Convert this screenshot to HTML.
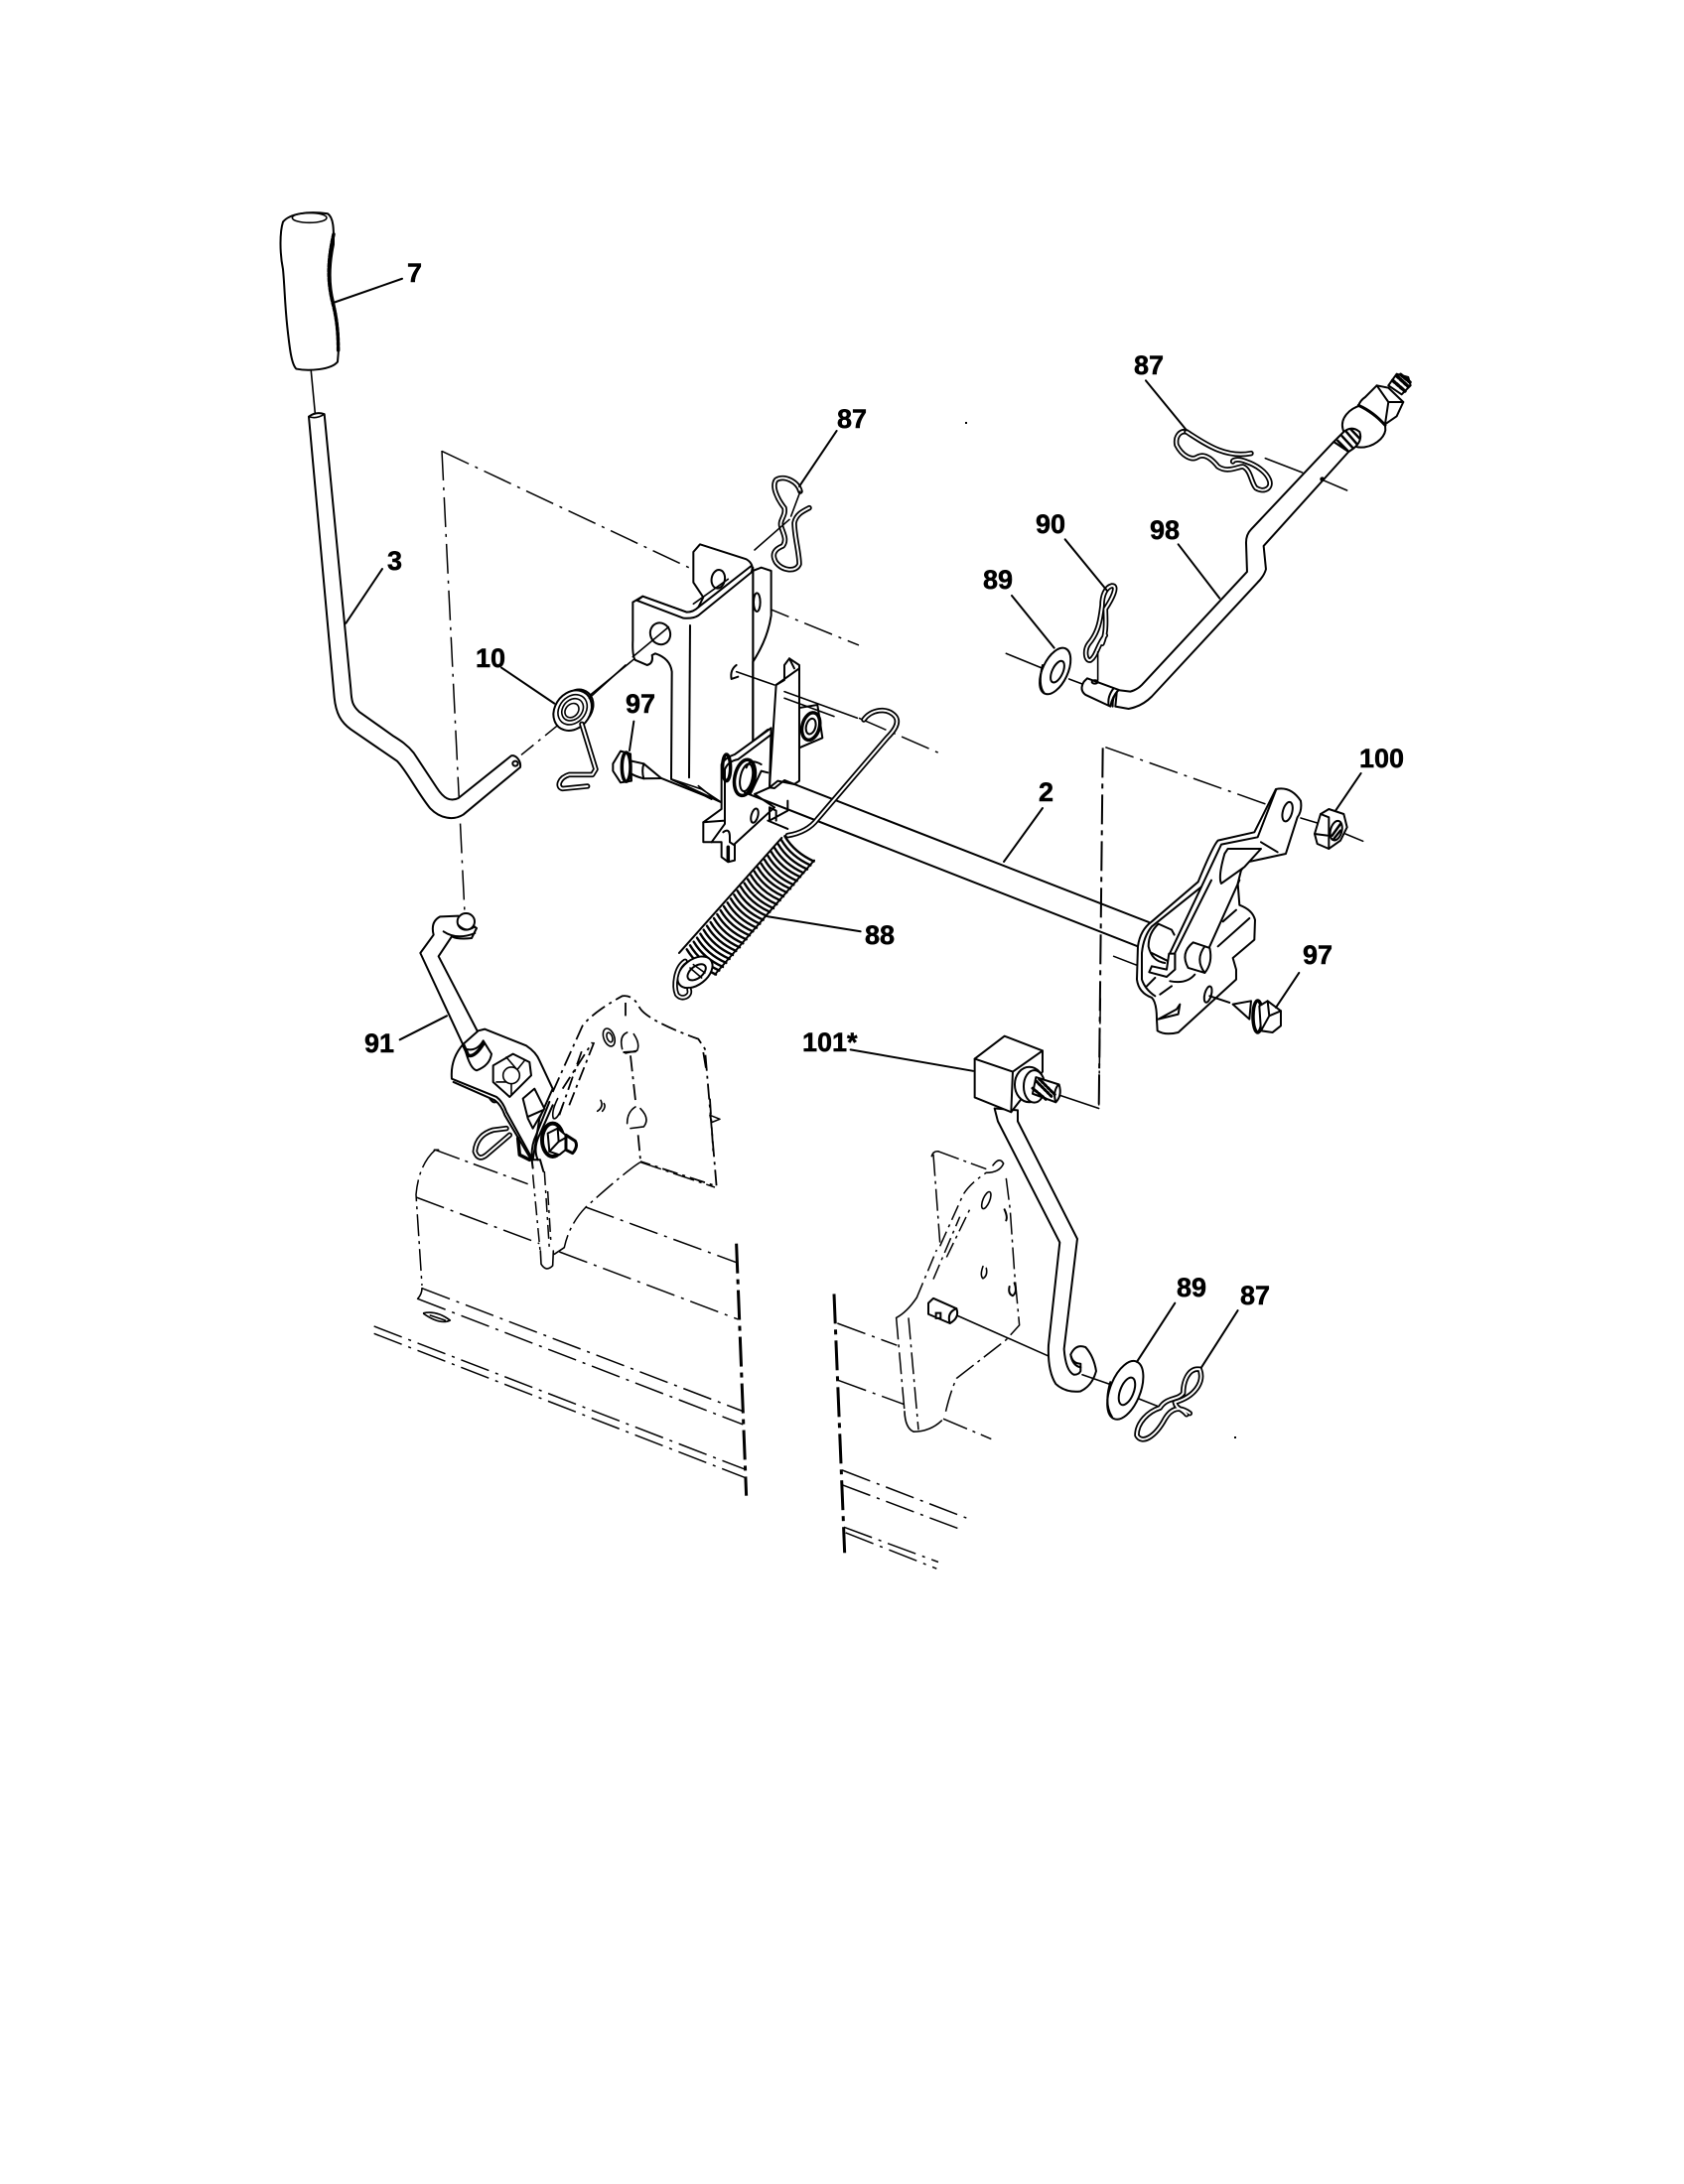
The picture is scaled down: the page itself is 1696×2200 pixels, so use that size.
<!DOCTYPE html>
<html><head><meta charset="utf-8">
<style>
html,body{margin:0;padding:0;background:#fff}
svg{display:block}
path,line,ellipse,polygon,circle{vector-effect:non-scaling-stroke;fill:none;stroke:#000;stroke-width:2;stroke-linejoin:round;stroke-linecap:round}
.f{fill:#fff}
.t{stroke-width:1.6}
.k{stroke-width:3.5}
.d{stroke-width:1.5;stroke-dasharray:30 7 3 7;stroke-linecap:butt}
.D{stroke-width:3;stroke-dasharray:30 6 5 6;stroke-linecap:butt}
.w1{stroke-width:5.5}
.w2{stroke:#fff;stroke-width:2}
.c{stroke-width:2.4}
text{font-family:"Liberation Sans",sans-serif;font-weight:bold;font-size:27px;fill:#000;stroke:#000;stroke-width:.5}
</style></head><body>
<svg xmlns="http://www.w3.org/2000/svg" width="1696" height="2200" viewBox="0 0 1696 2200">
<defs>
<path id="coil" class="c" d="M-44,-38 Q-14,12 44,38"/>
</defs>
<rect width="1696" height="2200" fill="#fff"/>

<!-- page level dash lines -->
<path class="d" d="M445,454 L468,920"/>
<rect x="972" y="425" width="2" height="2" fill="#000"/>
<rect x="1243" y="1447" width="2" height="2" fill="#000"/>

<!-- ZOOM 1: grip, rod, spring -->
<g transform="translate(230,180) scale(.3333,.4146)">
<path class="d" d="M645,662 L1400,948"/>
<path class="f" d="M165,105 C185,85 240,78 300,85 C320,95 318,130 318,160 C305,210 305,260 318,300 C335,360 335,410 330,445 C310,465 240,468 205,462 C190,450 185,410 178,360 C170,300 170,260 165,220 C155,180 155,130 165,105Z"/>
<ellipse class="t" cx="245" cy="95" rx="52" ry="12"/>
<path class="k" style="stroke-dasharray:3 2" d="M318,135 C300,200 298,250 318,310 C330,350 332,385 332,420"/>
<path d="M322,300 L525,243"/>
<path class="t" d="M250,468 L262,570"/>
<path class="f" d="M243,578 L320,1260 C325,1300 340,1320 370,1338 L510,1415 C540,1440 570,1490 610,1530 C640,1555 680,1560 710,1545 L882,1430 C885,1415 870,1400 855,1402 L695,1505 C670,1515 650,1505 630,1480 L560,1395 C540,1375 520,1365 500,1355 L395,1295 C375,1280 372,1270 370,1240 L290,572 Q265,565 243,578Z"/>
<path class="t" d="M243,578 Q265,585 290,572"/>
<ellipse cx="867" cy="1421" rx="8" ry="6"/>
<path d="M355,1080 L465,948"/>
<path class="d" style="stroke-dasharray:16 6 3 6" d="M885,1400 L1000,1325"/>
<path class="t" d="M1085,1260 L1290,1125"/>
<path d="M825,1188 L985,1275"/>
<!-- spring 10 -->
<ellipse class="f" cx="1052" cy="1285" rx="52" ry="42" transform="rotate(-25 1052 1285)"/>
<ellipse class="t" cx="1060" cy="1282" rx="44" ry="38" transform="rotate(-25 1060 1282)"/>
<ellipse class="f" cx="1040" cy="1292" rx="60" ry="46" transform="rotate(-25 1040 1292)"/>
<ellipse class="t" cx="1040" cy="1290" rx="46" ry="34" transform="rotate(-25 1040 1290)"/>
<ellipse class="t" cx="1040" cy="1290" rx="34" ry="25" transform="rotate(-25 1040 1290)"/>
<ellipse class="t" cx="1038" cy="1292" rx="22" ry="16" transform="rotate(-25 1038 1292)"/>
<path class="w1" d="M1068,1325 L1110,1435 L1100,1448 L1030,1448 C1000,1455 990,1478 1010,1482 L1085,1476"/>
<path class="w2" d="M1068,1325 L1110,1435 L1100,1448 L1030,1448 C1000,1455 990,1478 1010,1482 L1085,1476"/>
</g>

<!-- ZOOM 2: main bracket, spring 88 -->
<g transform="translate(560,480) scale(.3333)">
<path class="d" d="M620,390 L915,510"/>
<path class="f" d="M595,285 L620,275 L650,285 L650,420 Q640,490 595,560 Z"/>
<ellipse cx="607" cy="380" rx="10" ry="28"/>
<path class="f" d="M232,380 L262,362 L395,410 Q415,410 430,395 L595,275 L595,800 L640,765 L645,940 L600,960 L500,985 L348,915 L350,590 Q345,550 300,535 L290,540 Q295,565 275,570 L240,555 Q230,545 232,495 Z"/>
<path class="f" d="M415,228 L435,205 L575,250 Q600,265 590,290 L430,420 Q415,430 385,428 L245,375 L262,362 L395,410 Q415,410 430,395 L445,365 L415,320 Z"/>
<path d="M430,395 L590,270"/>
<ellipse class="f" cx="490" cy="310" rx="20" ry="28" transform="rotate(10 490 310)"/>
<path class="t" d="M415,385 L520,310"/>
<ellipse class="f" cx="315" cy="475" rx="30" ry="33" transform="rotate(-20 315 475)"/>
<path class="t" d="M232,545 L340,455"/>
<path class="t" d="M100,670 L210,570"/>
<path d="M405,450 L402,910"/>
<path d="M595,560 L595,800"/>
<path d="M318,912 L450,965 L470,975"/>
<path d="M350,915 L440,945 L500,985 M430,935 L480,975" class="t"/>
<path d="M545,570 Q525,585 530,612 L550,605" />
<path class="t" d="M545,590 L660,630"/>
<!-- sub bracket + nut -->
<polygon class="f" points="730,700 790,690 805,790 735,820"/>
<ellipse class="k" cx="770" cy="755" rx="26" ry="42" transform="rotate(15 770 755)"/>
<ellipse cx="770" cy="755" rx="14" ry="24" transform="rotate(15 770 755)"/>
<path class="f" d="M645,940 L665,630 L690,615 L690,570 L705,550 L735,570 L735,920 L720,930 L670,920 Z"/>
<path d="M665,630 L735,580 M705,550 L720,580"/>
<path d="M645,940 L660,942 L690,918 L720,930"/>
<path class="t" d="M690,650 L910,730 M690,670 L840,725" />
<path class="d" d="M915,730 L1167,840"/>
<!-- plate -->
<path class="f" d="M500,985 L500,870 Q510,850 540,840 L650,760 L645,940 L600,960 L660,1000 L540,1110 L540,1160 L520,1165 L500,1150 L500,1105 L470,1105 L445,1105 L445,1045 L500,1005 Z"/>
<path d="M510,990 L510,885 Q520,860 550,855 L650,780"/>
<path d="M510,990 L510,1050 L470,1105 M445,1045 L510,1040"/>
<path d="M505,1075 Q525,1060 525,1090 L525,1105 L540,1115"/>
<path class="k" d="M520,1120 L520,1160"/>
<ellipse class="k" cx="515" cy="880" rx="12" ry="40"/>
<ellipse class="f k" cx="570" cy="910" rx="30" ry="55" transform="rotate(12 570 910)"/>
<ellipse cx="575" cy="910" rx="18" ry="42" transform="rotate(12 575 910)"/>
<ellipse cx="600" cy="1025" rx="10" ry="22" transform="rotate(15 600 1025)"/>
<path d="M645,1000 L645,1040 L700,1010 L700,980 M645,1000 L665,1010 L665,1040 M640,1040 L700,1065"/>
<path d="M575,880 Q585,850 620,870"/>
<path d="M587,960 L620,890 L640,895"/>
<path d="M570,955 L1755,1419"/>
<path d="M720,930 L1791,1347"/>
<!-- spring 88 -->
<path class="f" style="stroke:none" d="M680,1095 L780,1165 L475,1530 L365,1455 Z"/>
<use href="#coil" x="735" y="1125"/><use href="#coil" x="725" y="1137"/><use href="#coil" x="715" y="1149"/><use href="#coil" x="704" y="1160"/><use href="#coil" x="694" y="1172"/><use href="#coil" x="684" y="1184"/><use href="#coil" x="674" y="1196"/><use href="#coil" x="664" y="1208"/><use href="#coil" x="653" y="1219"/><use href="#coil" x="643" y="1231"/><use href="#coil" x="633" y="1243"/><use href="#coil" x="623" y="1255"/><use href="#coil" x="613" y="1267"/><use href="#coil" x="602" y="1278"/><use href="#coil" x="592" y="1290"/><use href="#coil" x="582" y="1302"/><use href="#coil" x="572" y="1314"/><use href="#coil" x="562" y="1326"/><use href="#coil" x="551" y="1337"/><use href="#coil" x="541" y="1349"/><use href="#coil" x="531" y="1361"/><use href="#coil" x="521" y="1373"/><use href="#coil" x="511" y="1385"/><use href="#coil" x="500" y="1396"/><use href="#coil" x="490" y="1408"/><use href="#coil" x="480" y="1420"/><use href="#coil" x="470" y="1432"/><use href="#coil" x="460" y="1444"/><use href="#coil" x="449" y="1455"/><use href="#coil" x="439" y="1467"/>
<path d="M682,1092 L372,1440 M780,1160 L480,1505"/>
<path class="w1" d="M930,735 C950,705 1000,695 1025,725 C1040,745 1020,770 1000,790 L790,1035 Q760,1075 700,1085"/>
<path class="w2" d="M930,735 C950,705 1000,695 1025,725 C1040,745 1020,770 1000,790 L790,1035 Q760,1075 700,1085"/>
<path d="M640,1330 L920,1375"/>
<!-- bolt 97 -->
<path class="f" d="M220,858 L265,868 L318,912 L265,913 Q235,905 222,895 Z"/>
<path d="M265,868 Q258,890 265,913"/>
<polygon class="f" points="172,868 195,830 225,838 228,920 195,925 172,890"/>
<ellipse class="f k" cx="212" cy="878" rx="13" ry="44"/>
<path d="M235,740 L222,828"/>
</g>

<!-- ZOOM 8: clip 87 -->
<g transform="translate(720,380) scale(.3333)">
<path class="w1" d="M258,345 C250,315 210,295 185,310 C170,330 190,370 210,395 C215,420 195,430 200,450 C205,470 220,490 205,510 C180,520 170,535 185,560 C205,585 245,590 255,565 C255,530 240,480 240,440 C245,415 265,405 285,395"/>
<path class="w2" d="M258,345 C250,315 210,295 185,310 C170,330 190,370 210,395 C215,420 195,430 200,450 C205,470 220,490 205,510 C180,520 170,535 185,560 C205,585 245,590 255,565 C255,530 240,480 240,440 C245,415 265,405 285,395"/>
<path d="M258,345 L230,420" class="t"/>
<path d="M255,330 L368,162"/>
<path class="t" d="M120,522 L225,430"/>
</g>

<!-- ZOOM 3: rod 98 -->
<g transform="translate(950,320) scale(.3333)">
<path class="w1" d="M735,345 C715,340 700,360 705,385 C720,415 750,435 770,420 C790,410 810,425 830,450 C860,470 890,450 905,450 C930,460 930,500 945,515 C970,530 995,515 985,490 C975,465 945,445 915,435 C890,425 875,430 875,435"/>
<path class="w2" d="M735,345 C715,340 700,360 705,385 C720,415 750,435 770,420 C790,410 810,425 830,450 C860,470 890,450 905,450 C930,460 930,500 945,515 C970,530 995,515 985,490 C975,465 945,445 915,435 C890,425 875,430 875,435"/>
<path class="w1" d="M735,345 C790,380 850,425 930,410"/>
<path class="w2" d="M735,345 C790,380 850,425 930,410"/>
<path d="M612,190 L735,340"/>
<path class="t" d="M973,425 L1085,468 M1145,490 L1220,522"/>
<path class="f" d="M525,1125 L565,1130 Q585,1125 600,1110 L918,768 L915,680 Q915,655 930,640 L1180,375 L1225,405 L968,690 L975,760 Q970,780 950,800 L630,1145 Q600,1175 560,1182 L520,1175 Z"/>
<path class="f" d="M435,1090 L530,1125 Q510,1145 505,1175 L430,1140 Q410,1125 425,1100 Z"/>
<path d="M515,1120 Q495,1145 500,1172 M530,1125 Q510,1145 512,1175"/>
<ellipse cx="458" cy="1101" rx="9" ry="5"/>
<circle cx="1145" cy="488" r="4" style="fill:#000"/>
<!-- ball -->
<path class="f" d="M1262,265 C1225,275 1200,305 1207,335 C1215,370 1235,392 1262,392 C1300,392 1332,365 1336,340 L1335,320 Z"/>
<path class="f" d="M1180,375 L1210,345 Q1235,325 1258,345 Q1268,372 1240,395 L1225,405 Z"/>
<path class="k" style="stroke-width:2.5" d="M1192,372 L1222,402 M1205,358 L1238,394 M1218,345 L1250,382 M1232,338 L1258,365"/>
<!-- hex -->
<path class="f" d="M1255,265 Q1260,250 1275,240 L1310,205 L1345,212 L1390,255 L1370,298 L1335,322 Q1300,290 1255,265 Z"/>
<path d="M1310,205 L1345,255 L1335,322 M1345,255 L1390,255"/>
<path class="k" style="stroke-width:3" d="M1255,265 Q1300,285 1335,325"/>
<path class="f" d="M1345,205 L1370,170 L1405,180 L1412,205 L1385,232 Z"/>
<path class="k" style="stroke-dasharray:3 2" d="M1358,190 L1395,222 M1370,176 L1405,208 M1382,172 L1410,195"/>
<!-- clip 90 -->
<path class="w1" d="M480,985 C495,950 490,905 490,880 C510,850 530,810 510,810 C490,815 480,840 480,870 C475,910 470,950 440,985 C425,1005 430,1040 445,1035 C465,1020 465,990 490,960"/>
<path class="w2" d="M480,985 C495,950 490,905 490,880 C510,850 530,810 510,810 C490,815 480,840 480,870 C475,910 470,950 440,985 C425,1005 430,1040 445,1035 C465,1020 465,990 490,960"/>
<path d="M368,670 L495,825"/>
<path class="t" d="M467,1010 L467,1095"/>
<path d="M710,685 L835,848"/>
<!-- washer -->
<ellipse class="f" cx="338" cy="1068" rx="38" ry="75" transform="rotate(25 338 1068)"/>
<path d="M300,1050 Q285,1110 305,1135"/>
<ellipse cx="345" cy="1070" rx="16" ry="35" transform="rotate(25 345 1070)"/>
<path d="M207,840 L335,998"/>
<path class="t" d="M190,1015 L300,1060 M380,1092 L420,1107"/>
</g>

<!-- ZOOM 4: right lever plate -->
<g transform="translate(1000,720) scale(.3333)">
<path class="d" d="M340,98 L830,272"/>
<path class="D" style="stroke-width:2" d="M332,100 L320,1190"/>
<path class="t" d="M365,730 L435,757"/>
<path class="f" d="M855,225 L835,265 L790,355 L680,380 Q665,395 620,505 L480,625 Q445,650 438,700 L435,800 Q440,840 480,855 Q495,870 495,920 L497,955 Q520,970 560,960 L735,800 L735,770 L725,735 L790,680 L792,620 Q785,590 745,575 L740,510 L750,470 L770,445 L885,420 L920,310 Q935,290 930,260 Q900,215 855,225 Z"/>
<path d="M855,228 L800,370 L690,392 L630,520 L480,640 Q455,670 450,720 L450,800 Q460,830 490,850"/>
<path class="f" d="M700,420 L710,405 L810,405 L760,460 L690,510 Q680,490 700,420Z"/>
<path d="M535,720 L630,520 M550,770 L550,720 L660,500"/>
<path d="M655,700 L745,500"/>
<ellipse cx="890" cy="293" rx="14" ry="30" transform="rotate(15 890 293)"/>
<path d="M810,385 L860,415 M680,700 L775,615 M695,625 L735,590 M465,820 L490,795 M505,845 L540,820"/>
<path d="M500,632 Q470,660 470,700 Q480,745 520,750 M500,632 L540,650 L548,665"/>
<path d="M480,720 L530,745"/>
<path class="f" d="M480,760 L525,770 L532,722 L550,722 L550,770 L525,792 L472,778 Z"/>
<path class="f" d="M605,688 L655,705 Q665,750 640,780 L590,765 Q565,720 605,688Z"/>
<path d="M640,700 Q610,740 640,780"/>
<path d="M535,805 Q585,815 610,785"/>
<ellipse cx="650" cy="845" rx="10" ry="25" transform="rotate(15 650 845)"/>
<path d="M500,920 L555,890 L565,875 L560,905 Z"/>
<path d="M655,850 L715,870"/>
<path class="f" d="M725,875 L780,865 L775,920 Z"/>
<ellipse class="f k" cx="800" cy="912" rx="14" ry="48"/>
<polygon class="f" points="805,880 830,865 870,895 870,940 845,960 810,955"/>
<path d="M830,865 L835,910 L810,955 M835,910 L870,895"/>
<path d="M855,885 L925,780"/>
</g>

<!-- ZOOM 9: nut 100 -->
<g transform="translate(1300,730) scale(.3333)">
<path class="t" d="M30,282 L80,297 M165,330 L218,352"/>
<polygon class="f" points="72,330 90,270 115,255 160,270 170,310 150,350 115,375 80,360"/>
<ellipse cx="137" cy="320" rx="17" ry="30" transform="rotate(15 137 320)"/>
<path class="k" style="stroke-width:2.5" d="M125,335 L150,300 M130,345 L150,320"/>
<path d="M90,270 L115,280 L115,375 M72,330 L110,335"/>
<path d="M135,260 L212,147"/>
</g>

<!-- ZOOM 5: lever 91 + dashed bracket -->
<g transform="translate(340,860) scale(.3333)">
<path class="d" style="stroke-width:1.8;stroke-dasharray:16 5 3 5" d="M650,720 L740,520 Q770,480 860,430 Q890,425 910,460 Q925,500 1090,560 L1110,590 L1145,1005 L915,930"/>
<path class="d" style="stroke-width:1.8;stroke-dasharray:14 5 3 5" d="M680,710 L770,570 M670,790 L740,590 M700,760 L775,570"/>
<path class="d" style="stroke-width:1.8;stroke-dasharray:16 5 3 5" d="M870,450 L870,490 M885,610 L900,745 M908,850 L915,925 M1105,600 L1115,660 M1125,740 L1135,900"/>
<ellipse class="t" cx="820" cy="555" rx="16" ry="28" transform="rotate(-20 820 555)"/>
<ellipse class="t" cx="822" cy="555" rx="8" ry="15" transform="rotate(-20 822 555)"/>
<path class="t" d="M875,540 Q850,550 860,590 M895,545 Q915,575 905,595 L870,603"/>
<path class="k" style="stroke-width:2" d="M865,600 L900,598"/>
<path class="t" d="M900,765 Q875,780 875,815 M915,770 Q945,800 925,825 L885,830"/>
<path class="t" d="M795,745 Q805,765 785,778 M805,755 Q812,765 800,778"/>
<path class="t" d="M1125,790 L1155,802 L1130,812 Z"/>
<path class="t" d="M665,740 Q645,780 652,800 Q665,805 680,760"/>
<!-- rod -->
<path class="f" d="M290,245 Q280,205 310,190 L365,188 L420,225 L405,255 Q365,260 345,250 L305,310 L440,570 L385,590 L250,300 Z"/>
<path d="M320,235 Q360,262 415,240"/>
<ellipse class="f" cx="388" cy="205" rx="26" ry="25"/>
<path class="t" d="M365,215 Q390,240 415,220"/>
<!-- plate -->
<path class="f" d="M425,535 L445,530 L570,580 Q600,600 610,625 L650,710 L610,800 L590,925 L510,780 Q500,750 480,735 L345,680 Q340,620 380,575 Z"/>
<path d="M350,690 L475,745 Q495,760 505,790 L585,925"/>
<path class="f" d="M385,590 Q400,650 420,655 Q460,640 465,605 L440,565 Q420,600 385,590 Z"/>
<path class="k" d="M380,578 L395,610 Q415,615 440,575" />
<path class="f" d="M470,640 L530,605 L580,630 L585,670 L520,735 L470,690 Z"/>
<circle cx="525" cy="670" r="25" class="t"/>
<path class="t" d="M510,615 L540,650 M565,625 L545,650 M510,690 L480,690 M525,695 L525,730"/>
<path class="f" d="M560,740 L595,710 L625,770 L590,830 L575,800 Z"/>
<path d="M575,795 L620,775"/>
<!-- clip bottom -->
<path class="w1" d="M510,830 L470,835 Q420,850 415,900 Q425,930 450,910 L520,850"/>
<path class="w2" d="M510,830 L470,835 Q420,850 415,900 Q425,930 450,910 L520,850"/>
<path class="k" d="M545,860 L550,910 L580,925"/>
<path d="M460,740 Q470,755 480,750"/>
<!-- bracket edge near nut -->
<path d="M590,950 Q580,890 600,850 L640,750"/>
<path d="M605,925 Q590,890 610,850 L650,760"/>
<path d="M590,925 L612,925 L622,960"/>
<!-- nut -->
<ellipse class="f k" cx="650" cy="865" rx="32" ry="50" style="stroke-width:4"/>
<polygon class="f" points="635,845 665,830 695,855 695,890 670,910 640,900"/>
<path d="M665,830 L668,870 L640,900 M668,870 L695,855"/>
<path class="f" d="M690,850 L718,868 Q728,885 710,905 L690,895 Z" style="stroke-width:3"/>
<path d="M188,562 L330,490"/>
<!-- spring hook -->
<ellipse class="f" cx="1080" cy="358" rx="60" ry="38" transform="rotate(-38 1080 358)"/>
<ellipse cx="1085" cy="358" rx="32" ry="18" transform="rotate(-38 1085 358)"/>
<path class="t" d="M1065,345 L1100,375 M1075,335 L1110,360"/>
<path class="w1" d="M1050,325 C1020,345 1015,400 1025,425 C1040,445 1070,430 1062,410"/>
<path class="w2" d="M1050,325 C1020,345 1015,400 1025,425 C1040,445 1070,430 1062,410"/>
</g>

<!-- ZOOM 6: lower left dashed panel -->
<g transform="translate(350,1130) scale(.3333)">
<path class="d" style="stroke-dasharray:26 6 3 6" d="M265,85 L545,188"/>
<path class="d" style="stroke-dasharray:22 5 3 5" d="M265,85 Q215,130 207,220 L225,495"/>
<path d="M225,503 Q225,520 212,535 M262,85 L275,85" class="t"/>
<path class="d" d="M207,228 L580,368"/>
<path class="d" d="M225,503 L1195,875"/>
<path class="d" d="M212,535 L1195,915"/>
<path class="d" d="M80,618 L1200,1050"/>
<path class="d" d="M80,640 L1200,1075"/>
<path class="d" d="M640,393 L1180,597"/>
<path class="d" d="M720,258 L1175,425"/>
<path class="d" style="stroke-dasharray:22 5 3 5" d="M885,122 L1110,198"/>
<path class="d" style="stroke-dasharray:22 5 3 5" d="M885,122 Q840,150 720,258 Q670,310 655,380"/>
<path class="t" d="M655,380 L625,400"/>
<path class="D" d="M1175,368 L1205,1130"/>
<path class="t" d="M583,390 L585,430 Q600,455 620,435 L622,390"/>
<path class="d" style="stroke-dasharray:14 5 3 5" d="M560,160 L582,390 M595,150 L610,385 M605,210 L615,370"/>
<path class="t" d="M230,578 Q270,570 310,600 Q280,615 230,580 M250,585 L295,600"/>
</g>

<!-- ZOOM 7: right lever + lower right -->
<g transform="translate(780,1000) scale(.3333,.37)">
<path class="d" style="stroke-dasharray:26 6 3 6" d="M985,15 L980,315"/>
<path class="t" d="M865,280 L980,315"/>
<path class="d" style="stroke-dasharray:22 5 3 5" d="M480,440 L500,680 M495,432 L640,480 M700,505 L712,590 L725,760 L740,905 L700,945 L550,1050 Q530,1090 515,1150"/>
<path class="d" style="stroke-dasharray:16 5 3 5" d="M500,690 L570,550 Q590,520 640,490 M430,830 L490,700 M480,780 L560,610 M520,720 L590,590"/>
<path class="d" style="stroke-dasharray:22 5 3 5" d="M368,885 L393,1140 M405,885 L435,1190"/>
<path class="t" d="M475,445 Q480,430 495,432"/>
<path class="t" d="M368,885 Q400,870 430,830 M393,1140 Q395,1185 420,1195 Q470,1195 505,1165"/>
<path class="t" d="M660,470 Q680,445 692,465 Q680,490 640,490"/>
<ellipse class="t" cx="640" cy="565" rx="10" ry="25" transform="rotate(25 640 565)"/>
<path class="t" d="M630,745 Q620,770 630,778 Q645,770 640,750"/>
<path d="M710,800 Q705,820 720,825 Q735,815 725,790 M695,590 Q705,610 700,620"/>
<path class="d" style="stroke-dasharray:26 6 3 6" d="M510,1160 L655,1215"/>
<path class="D" d="M180,820 L212,1525"/>
<path class="d" d="M190,900 L370,960"/>
<path class="d" d="M192,1055 L390,1120"/>
<path class="d" d="M205,1300 L580,1430"/>
<path class="d" d="M205,1340 L565,1462"/>
<path class="d" d="M210,1455 L495,1550"/>
<path class="d" d="M215,1470 L490,1568"/>
<!-- pin -->
<path class="t" d="M555,880 L830,990"/>
<path class="f" d="M465,845 L480,832 L550,860 Q560,885 530,900 L465,875 Z"/>
<path d="M550,860 Q520,870 530,900"/>
<rect x="488" y="872" width="14" height="14" fill="#fff" stroke="#000" stroke-width="2" vector-effect="non-scaling-stroke"/>
<!-- rod -->
<path class="f" d="M665,315 L675,350 L862,680 L828,960 Q825,1030 850,1065 Q880,1090 925,1085 Q960,1070 972,1030 Q965,990 940,965 Q910,955 895,985 Q900,1010 925,1010 L925,1030 Q920,1040 905,1040 Q880,1030 875,970 L915,670 L735,350 L735,320 Z"/>
<path d="M895,985 Q900,1015 925,1020"/>
<!-- block -->
<path class="f" d="M605,180 L695,118 L810,158 L810,215 L715,325 L605,285 Z"/>
<path d="M605,180 L720,215 L810,158 M720,215 L715,325"/>
<path d="M230,155 L600,213"/>
<ellipse class="f" cx="770" cy="250" rx="44" ry="48"/>
<ellipse class="f" cx="785" cy="255" rx="32" ry="44"/>
<path class="f" d="M790,230 L860,250 Q870,280 850,298 L780,275 Z"/>
<path class="k" style="stroke-dasharray:2 2;stroke-width:3" d="M790,240 L840,285 M800,235 L850,280 M780,260 L820,290"/>
<path d="M858,250 Q840,270 850,298"/>
<!-- washer -->
<path class="t" d="M930,1040 L1010,1065"/>
<ellipse class="f" cx="1060" cy="1082" rx="45" ry="85" transform="rotate(25 1060 1082)"/>
<path d="M1015,1060 Q995,1120 1020,1155"/>
<ellipse cx="1065" cy="1085" rx="20" ry="40" transform="rotate(25 1065 1085)"/>
<path d="M1095,1005 L1210,845"/>
<path class="t" d="M1100,1105 L1170,1130"/>
<path class="w1" d="M1245,1148 C1230,1130 1215,1135 1210,1115 C1270,1100 1300,1060 1285,1025 C1250,1020 1235,1060 1235,1090 C1220,1110 1185,1100 1165,1130 C1130,1140 1095,1170 1095,1205 C1110,1230 1150,1210 1180,1160 C1200,1130 1225,1125 1255,1145"/>
<path class="w2" d="M1245,1148 C1230,1130 1215,1135 1210,1115 C1270,1100 1300,1060 1285,1025 C1250,1020 1235,1060 1235,1090 C1220,1110 1185,1100 1165,1130 C1130,1140 1095,1170 1095,1205 C1110,1230 1150,1210 1180,1160 C1200,1130 1225,1125 1255,1145"/>
<path d="M1290,1020 L1400,865"/>
</g>

<!-- labels -->
<text x="410" y="284">7</text>
<text x="390" y="574">3</text>
<text x="479" y="672">10</text>
<text x="630" y="718">97</text>
<text x="843" y="431">87</text>
<text x="1142" y="377">87</text>
<text x="1043" y="537">90</text>
<text x="1158" y="543">98</text>
<text x="990" y="593">89</text>
<text x="1046" y="807">2</text>
<text x="1369" y="773">100</text>
<text x="1312" y="971">97</text>
<text x="871" y="951">88</text>
<text x="367" y="1060">91</text>
<text x="808" y="1059">101*</text>
<text x="1185" y="1306">89</text>
<text x="1249" y="1314">87</text>
<path d="M1046,817 L1012,868" style="stroke-width:0"/>
<path d="M1050,814 L1011,868"/>
</svg>
</body></html>
